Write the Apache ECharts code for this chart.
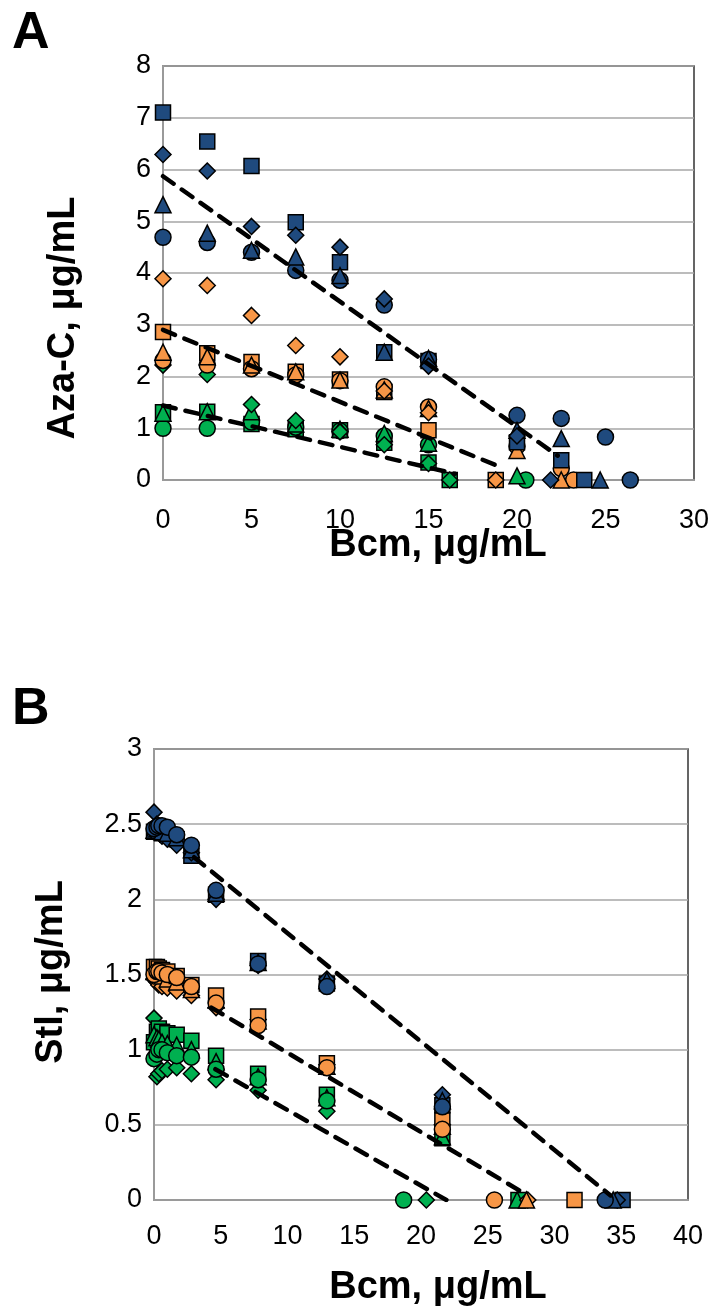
<!DOCTYPE html>
<html>
<head>
<meta charset="utf-8">
<script src="https://cdn.jsdelivr.net/npm/echarts@6/dist/echarts.min.js"></script>
<style>
html,body{margin:0;padding:0;background:#fff;}
#main{width:716px;height:1314px;}
</style>
</head>
<body>
<div id="main"></div>
<script>
// ---- panel A : Aza-C vs Bcm ----
var aBlueSquare   = [[0,7.1],[2.5,6.54],[5,6.07],[7.5,4.98],[10,4.21],[12.5,2.47],[15,2.3],[20,0.73],[22.5,0.38],[23.8,0]];
var aBlueDiamond  = [[0,6.29],[2.5,5.97],[5,4.9],[7.5,4.73],[10,4.5],[12.5,3.5],[15,2.2],[20,0.85],[21.9,0]];
var aBlueTriangle = [[0,5.32],[2.5,4.77],[5,4.44],[7.5,4.31],[10,3.95],[12.5,2.47],[15,2.35],[20,0.96],[22.5,0.8],[24.7,0]];
var aBlueCircle   = [[0,4.69],[2.5,4.59],[5,4.4],[7.5,4.05],[10,3.86],[12.5,3.38],[15,2.33],[20,1.25],[22.5,1.19],[25,0.83],[26.4,0]];

var aOrangeSquare   = [[0,2.86],[2.5,2.45],[5,2.28],[7.5,2.09],[10,1.94],[12.5,1.7],[15,0.96],[18.8,0]];
var aOrangeDiamond  = [[0,3.89],[2.5,3.76],[5,3.18],[7.5,2.6],[10,2.38],[12.5,1.72],[15,1.3],[18.8,0]];
var aOrangeTriangle = [[0,2.47],[2.5,2.38],[5,2.22],[7.5,2.09],[10,1.93],[12.5,1.74],[15,1.38],[20,0.57],[22.5,0]];
var aOrangeCircle   = [[0,2.31],[2.5,2.22],[5,2.15],[7.5,2.03],[10,1.92],[12.5,1.8],[15,1.41],[20,0.65],[22.5,0.22],[23.2,0]];

var aGreenSquare   = [[0,1.31],[2.5,1.32],[5,1.08],[7.5,0.98],[10,0.96],[12.5,0.72],[15,0.34],[16.2,0]];
var aGreenDiamond  = [[0,2.22],[2.5,2.04],[5,1.46],[7.5,1.15],[10,0.93],[12.5,0.68],[15,0.32],[16.2,0]];
var aGreenTriangle = [[0,1.29],[2.5,1.32],[5,1.32],[7.5,1.08],[10,0.98],[12.5,0.9],[15,0.71],[20,0.08]];
var aGreenCircle   = [[0,1.0],[2.5,1.0],[5,1.12],[7.5,1.02],[10,0.95],[12.5,0.85],[15,0.68],[20.5,0]];

var aTrendBlue   = [[0,5.87],[22.3,0.47]];
var aTrendOrange = [[0,2.9],[19,0.26]];
var aTrendGreen  = [[0,1.44],[16.5,0.12]];

// ---- panel B : Stl vs Bcm ----
var xB = [0,0.22,0.36,0.6,1.0,1.7,2.8,4.65,7.8,12.95,21.6];

var bBlueSquare   = [2.45,2.45,2.45,2.44,2.43,2.40,2.29,2.03,1.59,1.44,0.63];
var bBlueDiamond  = [2.58,2.50,2.46,2.42,2.40,2.36,2.31,2.00,1.56,1.47,0.70];
var bBlueTriangle = [2.46,2.47,2.46,2.45,2.44,2.41,2.33,2.04,1.58,1.46,0.66];
var bBlueCircle   = [2.47,2.48,2.49,2.49,2.48,2.43,2.36,2.06,1.57,1.42,0.62];

var bOrangeSquare   = [1.55,1.55,1.54,1.53,1.52,1.49,1.43,1.36,1.22,0.91,0.53];
var bOrangeDiamond  = [1.47,1.45,1.43,1.42,1.41,1.39,1.36,1.28,1.20,0.90,0.50];
var bOrangeTriangle = [1.52,1.51,1.50,1.49,1.47,1.45,1.40,1.33,1.19,0.89,0.49];
var bOrangeCircle   = [1.50,1.52,1.52,1.51,1.50,1.48,1.42,1.31,1.16,0.88,0.47];

var bGreenSquare   = [1.05,1.12,1.14,1.12,1.11,1.10,1.06,0.96,0.84,0.70,0.41];
var bGreenDiamond  = [1.21,0.82,0.84,0.86,0.87,0.88,0.84,0.80,0.73,0.59,null];
var bGreenTriangle = [1.10,1.08,1.07,1.05,1.04,1.03,1.00,0.92,0.82,0.68,0.42];
var bGreenCircle   = [0.94,0.97,1.00,1.00,0.98,0.96,0.95,0.87,0.80,0.66,null];

// x where each B series reaches zero
var bZeroBlue   = {square:35.1, diamond:34.7, triangle:34.4, circle:33.8};
var bZeroOrange = {square:31.5, diamond:28.0, triangle:27.9, circle:25.5};
var bZeroGreen  = {square:27.3, diamond:20.4, triangle:27.2, circle:18.7};

var bTrendBlue   = [[3,2.28],[34.2,0.03]];
var bTrendOrange = [[4.3,1.28],[28,0.03]];
var bTrendGreen  = [[4.6,0.87],[21.9,0]];

var blue = '#1F4A7E', orange = '#F79646', green = '#00B050';
var fontFam = '"Liberation Sans", Arial, sans-serif';

function pairB(vals, zeroX){
	var out = [];
	for(var i=0;i<xB.length;i++){
		if(vals[i] != null) out.push([xB[i], vals[i]]);
	}
	out.push([zeroX, 0]);
	return out;
}

var shapeSize = {rect:15, diamond:16, triangle:16, circle:16};

function scatter(data, color, shape, idx){
	return {
		type:'scatter',
		xAxisIndex: idx, yAxisIndex: idx,
		data: data,
		symbol: shape,
		symbolSize: shapeSize[shape],
		itemStyle: {color: color, opacity:1, borderColor:'#000', borderWidth:1.5},
		silent: true,
		z: 3
	};
}

function trend(data, idx){
	return {
		type:'line',
		xAxisIndex: idx, yAxisIndex: idx,
		data: data,
		symbol:'none',
		lineStyle:{color:'#000', width:4.5, type:[13,10], cap:'round'},
		silent: true,
		z: 4
	};
}

var series = [];
// panel A
series.push(scatter(aGreenSquare, green, 'rect', 0));
series.push(scatter(aGreenCircle, green, 'circle', 0));
series.push(scatter(aGreenTriangle, green, 'triangle', 0));
series.push(scatter(aGreenDiamond, green, 'diamond', 0));
series.push(scatter(aOrangeSquare, orange, 'rect', 0));
series.push(scatter(aOrangeCircle, orange, 'circle', 0));
series.push(scatter(aOrangeTriangle, orange, 'triangle', 0));
series.push(scatter(aOrangeDiamond, orange, 'diamond', 0));
series.push(scatter(aBlueSquare, blue, 'rect', 0));
series.push(scatter(aBlueCircle, blue, 'circle', 0));
series.push(scatter(aBlueTriangle, blue, 'triangle', 0));
series.push(scatter(aBlueDiamond, blue, 'diamond', 0));
series.push(trend(aTrendBlue, 0));
series.push(trend(aTrendOrange, 0));
series.push(trend(aTrendGreen, 0));
// panel B
series.push(scatter(pairB(bGreenDiamond, bZeroGreen.diamond), green, 'diamond', 1));
series.push(scatter(pairB(bGreenSquare, bZeroGreen.square), green, 'rect', 1));
series.push(scatter(pairB(bGreenTriangle, bZeroGreen.triangle), green, 'triangle', 1));
series.push(scatter(pairB(bGreenCircle, bZeroGreen.circle), green, 'circle', 1));
series.push(scatter(pairB(bOrangeDiamond, bZeroOrange.diamond), orange, 'diamond', 1));
series.push(scatter(pairB(bOrangeTriangle, bZeroOrange.triangle), orange, 'triangle', 1));
series.push(scatter(pairB(bOrangeSquare, bZeroOrange.square), orange, 'rect', 1));
series.push(scatter(pairB(bOrangeCircle, bZeroOrange.circle), orange, 'circle', 1));
series.push(scatter(pairB(bBlueSquare, bZeroBlue.square), blue, 'rect', 1));
series.push(scatter(pairB(bBlueDiamond, bZeroBlue.diamond), blue, 'diamond', 1));
series.push(scatter(pairB(bBlueTriangle, bZeroBlue.triangle), blue, 'triangle', 1));
series.push(scatter(pairB(bBlueCircle, bZeroBlue.circle), blue, 'circle', 1));
series.push(trend(bTrendBlue, 1));
series.push(trend(bTrendOrange, 1));
series.push(trend(bTrendGreen, 1));

var axisLine = {show:true, lineStyle:{color:'#9a9a9a', width:2}};
var splitLine = {show:true, lineStyle:{color:'#a6a6a6', width:1.5}};
var tickLabel = {color:'#000', fontSize:27, fontFamily:fontFam};

var myChart = echarts.init(document.getElementById('main'), null, {renderer:'canvas'});
var option = {
	backgroundColor:'#fff',
	animation:false,
	grid:[
		{left:163, top:66, width:531, height:414, show:true, borderColor:'#333', borderWidth:1.5, backgroundColor:'transparent'},
		{left:154, top:749, width:534, height:451, show:true, borderColor:'#333', borderWidth:1.5, backgroundColor:'transparent'}
	],
	xAxis:[
		{gridIndex:0, type:'value', min:0, max:30, interval:5, axisLine:axisLine, axisTick:{show:false}, splitLine:{show:false},
		 axisLabel:Object.assign({margin:27}, tickLabel)},
		{gridIndex:1, type:'value', min:0, max:40, interval:5, axisLine:axisLine, axisTick:{show:false}, splitLine:{show:false},
		 axisLabel:Object.assign({margin:23}, tickLabel)}
	],
	yAxis:[
		{gridIndex:0, type:'value', min:0, max:8, interval:1, axisLine:axisLine, axisTick:{show:false}, splitLine:splitLine,
		 axisLabel:Object.assign({margin:12}, tickLabel)},
		{gridIndex:1, type:'value', min:0, max:3, interval:0.5, axisLine:axisLine, axisTick:{show:false}, splitLine:splitLine,
		 axisLabel:Object.assign({margin:12}, tickLabel)}
	],
	graphic:[
		{type:'text', left:12, top:8, style:{text:'A', font:'bold 52px ' + fontFam, fill:'#000'}},
		{type:'text', left:12, top:684, style:{text:'B', font:'bold 52px ' + fontFam, fill:'#000'}},
		{type:'text', x:438, y:546, style:{text:'Bcm, μg/mL', font:'bold 38px ' + fontFam, fill:'#000', align:'center', verticalAlign:'middle'}},
		{type:'text', x:438, y:1288, style:{text:'Bcm, μg/mL', font:'bold 38px ' + fontFam, fill:'#000', align:'center', verticalAlign:'middle'}},
		{type:'text', x:64, y:318, rotation:Math.PI/2, style:{text:'Aza-C, μg/mL', font:'bold 38px ' + fontFam, fill:'#000', align:'center', verticalAlign:'middle'}},
		{type:'text', x:52, y:972, rotation:Math.PI/2, style:{text:'Stl, μg/mL', font:'bold 38px ' + fontFam, fill:'#000', align:'center', verticalAlign:'middle'}}
	],
	series:series
};
myChart.setOption(option);
</script>
</body>
</html>
